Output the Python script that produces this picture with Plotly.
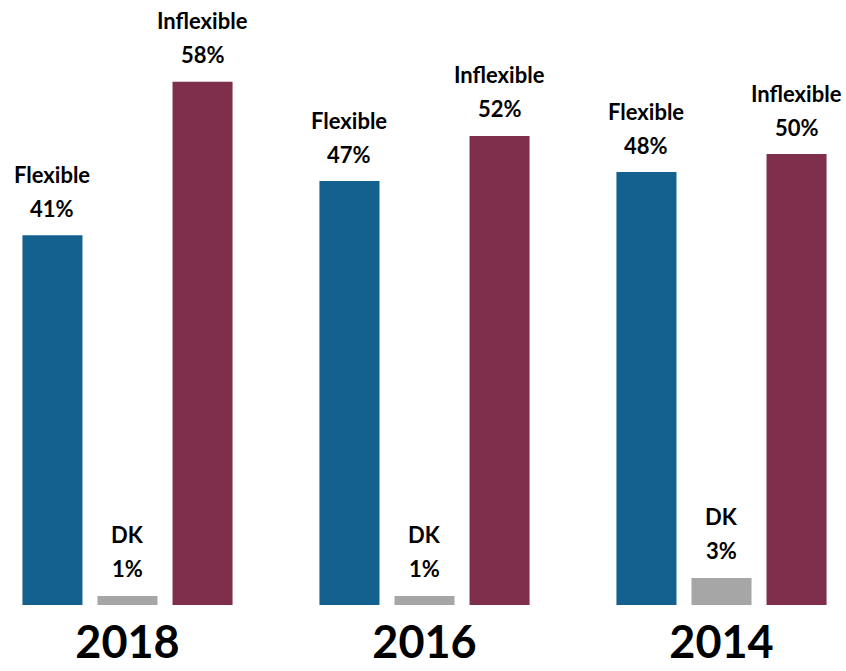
import plotly.graph_objects as go

years = ["2018", "2016", "2014"]
flexible = [41, 47, 48]
dk = [1, 1, 3]
inflexible = [58, 52, 50]
series_names = ["Flexible", "DK", "Inflexible"]
series_colors = ["#14608F", "#A6A6A6", "#7F2F4B"]

series_values = [flexible, dk, inflexible]
bargap = 0.242
slot = (1 - bargap) / 3

fig = go.Figure()
for name, vals, col in zip(series_names, series_values, series_colors):
    fig.add_trace(go.Bar(x=years, y=vals, name=name, marker=dict(color=col, line=dict(width=0)),
                         hoverinfo="skip"))

font_family = "Lato"
annotations = []
for j, (name, vals) in enumerate(zip(series_names, series_values)):
    for i, v in enumerate(vals):
        xpos = i + (j - 1) * slot
        annotations.append(dict(x=xpos, y=v, xref="x", yref="y", text=f"<b>{v}%</b>",
                                showarrow=False, yanchor="middle", yshift=27,
                                font=dict(family=font_family, size=22, color="#000000")))
        annotations.append(dict(x=xpos, y=v, xref="x", yref="y", text=f"<b>{name}</b>",
                                showarrow=False, yanchor="middle", yshift=61,
                                font=dict(family=font_family, size=22, color="#000000")))

W, H = 846, 671
px_per_unit = 297
x0 = -127.5 / px_per_unit
fig.update_layout(
    width=W, height=H,
    margin=dict(l=0, r=0, t=0, b=66, autoexpand=False),
    barmode="group", bargap=bargap, bargroupgap=0.2,
    plot_bgcolor="white", paper_bgcolor="white",
    showlegend=False,
    annotations=annotations,
    xaxis=dict(type="category", range=[x0, x0 + W / px_per_unit], showgrid=False, zeroline=False,
               showline=False, ticks="", ticklabelstandoff=7, automargin=False,
               tickfont=dict(family=font_family, size=45, color="#000000"),
               tickvals=years, ticktext=[f"<b>{y}</b>" for y in years]),
    yaxis=dict(range=[0, 605 / 9.02], visible=False, showgrid=False, zeroline=False,
               automargin=False),
)

fig.write_html("out.html", config={"displayModeBar": False},
               post_script="document.body.style.margin='0';document.body.style.overflow='hidden';")
